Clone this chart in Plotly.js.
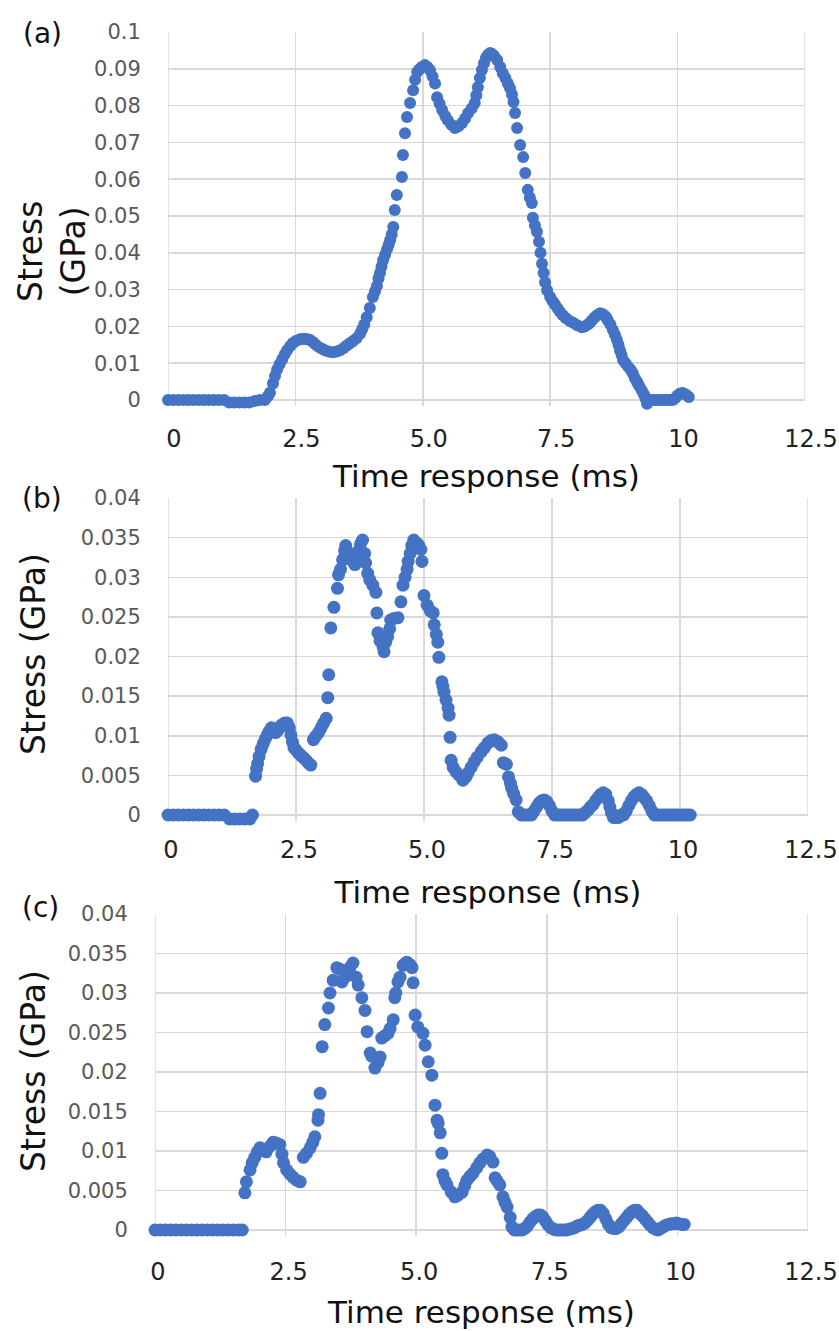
<!DOCTYPE html>
<html><head><meta charset="utf-8">
<script src="https://cdn.plot.ly/plotly-3.0.1.min.js"></script>
<style>html,body{margin:0;padding:0;background:#fff}#chart{width:839px;height:1331px}</style>
</head><body><div id="chart"></div>
<script>
// ---- data ----
const xTickVals = [0, 2.5, 5, 7.5, 10, 12.5];
const xTickText = ['0', '2.5', '5.0', '7.5', '10', '12.5'];
const yTickValsA = [0, 0.01, 0.02, 0.03, 0.04, 0.05, 0.06, 0.07, 0.08, 0.09, 0.1];
const yTickTextA = ['0', '0.01', '0.02', '0.03', '0.04', '0.05', '0.06', '0.07', '0.08', '0.09', '0.1'];
const yTickValsBC = [0, 0.005, 0.01, 0.015, 0.02, 0.025, 0.03, 0.035, 0.04];
const yTickTextBC = ['0', '0.005', '0.01', '0.015', '0.02', '0.025', '0.03', '0.035', '0.04'];

const timeA = [0,0.1,0.2,0.3,0.4,0.5,0.6,0.7,0.8,0.9,1.0,1.1,1.2,1.3,1.4,1.5,1.6,1.7,1.8,1.9,1.96,2.0,2.06,2.1,2.14,2.19,2.24,2.29,2.34,2.4,2.45,2.52,2.59,2.64,2.69,2.74,2.79,2.85,2.9,2.97,3.04,3.1,3.17,3.24,3.31,3.38,3.45,3.51,3.57,3.63,3.7,3.77,3.81,3.85,3.9,3.96,4.02,4.06,4.1,4.13,4.16,4.19,4.22,4.26,4.3,4.33,4.36,4.39,4.42,4.45,4.49,4.59,4.61,4.65,4.69,4.75,4.81,4.85,4.89,4.93,4.98,5.04,5.09,5.14,5.19,5.24,5.28,5.33,5.38,5.44,5.49,5.56,5.63,5.7,5.77,5.83,5.89,5.96,6.02,6.05,6.08,6.12,6.16,6.2,6.24,6.28,6.32,6.36,6.4,6.46,6.52,6.57,6.62,6.67,6.71,6.75,6.78,6.81,6.85,6.91,6.97,7.01,7.06,7.1,7.14,7.16,7.2,7.24,7.28,7.31,7.34,7.37,7.4,7.44,7.5,7.55,7.59,7.64,7.69,7.75,7.81,7.88,7.95,8.03,8.12,8.18,8.24,8.28,8.32,8.37,8.42,8.48,8.52,8.56,8.6,8.63,8.68,8.73,8.77,8.81,8.84,8.87,8.9,8.93,8.98,9.03,9.08,9.12,9.16,9.2,9.23,9.26,9.3,9.34,9.37,9.4,9.45,9.5,9.55,9.6,9.65,9.7,9.75,9.8,9.85,9.9,9.95,10.0,10.05,10.1,10.16,10.22];
const stressA = [0,0,0,0,0,0,0,0,0,0,0,0,-0.0007,-0.0007,-0.0007,-0.0007,-0.0007,-0.0003,0,0,0.001,0.002,0.0045,0.0065,0.0082,0.0097,0.011,0.0124,0.0136,0.0147,0.0155,0.0161,0.0165,0.0166,0.0166,0.0165,0.0163,0.0157,0.015,0.0143,0.0138,0.0134,0.0131,0.013,0.0132,0.0135,0.0141,0.0148,0.0154,0.016,0.0168,0.018,0.0192,0.0205,0.0225,0.025,0.028,0.0295,0.031,0.033,0.0345,0.0362,0.038,0.0395,0.041,0.0422,0.0435,0.045,0.047,0.0516,0.0557,0.0606,0.0666,0.0725,0.0769,0.0807,0.0842,0.087,0.0891,0.0898,0.0905,0.091,0.0905,0.0897,0.088,0.086,0.0823,0.0805,0.0788,0.0772,0.076,0.0748,0.0739,0.0744,0.0753,0.0765,0.078,0.0793,0.0807,0.0828,0.085,0.0875,0.0897,0.0915,0.093,0.0938,0.0943,0.094,0.0935,0.0924,0.0905,0.0888,0.0875,0.086,0.0848,0.083,0.081,0.078,0.0739,0.0693,0.066,0.0617,0.0571,0.055,0.0535,0.0495,0.0475,0.0457,0.043,0.04,0.037,0.0345,0.032,0.0298,0.028,0.0268,0.026,0.025,0.024,0.023,0.0222,0.0215,0.021,0.0203,0.0198,0.02,0.0205,0.021,0.0217,0.0224,0.023,0.0236,0.0234,0.023,0.0224,0.0217,0.0205,0.019,0.0177,0.0163,0.015,0.0135,0.0122,0.0109,0.01,0.009,0.0082,0.0073,0.006,0.005,0.0042,0.0035,0.0025,0.0015,0.0005,-0.001,0,0,0,0,0,0,0,0,0,0,0.0005,0.0012,0.0018,0.0019,0.0015,0.0008];

const timeB = [0,0.1,0.2,0.3,0.4,0.5,0.6,0.7,0.8,0.9,1.0,1.1,1.2,1.3,1.4,1.5,1.6,1.65,1.71,1.73,1.75,1.78,1.82,1.86,1.9,1.94,1.98,2.02,2.06,2.1,2.14,2.18,2.23,2.28,2.33,2.37,2.4,2.43,2.46,2.5,2.55,2.6,2.65,2.7,2.75,2.79,2.84,2.88,2.94,2.99,3.04,3.09,3.12,3.14,3.18,3.24,3.31,3.33,3.37,3.41,3.45,3.47,3.51,3.57,3.61,3.65,3.69,3.73,3.76,3.8,3.84,3.86,3.9,3.94,4.0,4.06,4.08,4.1,4.14,4.2,4.22,4.25,4.29,4.33,4.35,4.41,4.49,4.55,4.59,4.63,4.67,4.69,4.73,4.76,4.8,4.86,4.9,4.94,4.96,5.0,5.06,5.12,5.18,5.2,5.24,5.27,5.29,5.35,5.37,5.39,5.43,5.47,5.49,5.51,5.53,5.57,5.63,5.69,5.76,5.82,5.86,5.92,5.98,6.04,6.12,6.18,6.25,6.31,6.37,6.45,6.51,6.55,6.61,6.65,6.69,6.71,6.75,6.8,6.84,6.9,6.95,7.0,7.05,7.1,7.15,7.2,7.25,7.3,7.35,7.4,7.45,7.5,7.55,7.6,7.65,7.7,7.75,7.8,7.85,7.9,7.95,8.0,8.05,8.1,8.15,8.2,8.25,8.3,8.35,8.4,8.45,8.5,8.55,8.6,8.63,8.66,8.7,8.75,8.8,8.85,8.9,8.95,9.0,9.05,9.1,9.15,9.2,9.25,9.3,9.35,9.4,9.45,9.5,9.55,9.6,9.65,9.7,9.75,9.8,9.85,9.9,9.95,10.0,10.05,10.1,10.15,10.2];
const stressB = [0,0,0,0,0,0,0,0,0,0,0,0,-0.0005,-0.0005,-0.0005,-0.0005,-0.0005,0,0.0049,0.0058,0.0065,0.0074,0.0083,0.009,0.0096,0.0101,0.0106,0.011,0.0108,0.0104,0.0106,0.0111,0.0114,0.0116,0.0116,0.011,0.0101,0.0092,0.0085,0.0082,0.0078,0.0075,0.0072,0.0069,0.0065,0.0063,0.0095,0.0099,0.0104,0.011,0.0116,0.0122,0.0148,0.0177,0.0236,0.0262,0.0286,0.0303,0.031,0.0322,0.0333,0.034,0.0332,0.0326,0.032,0.0316,0.0325,0.0334,0.0342,0.0347,0.033,0.0318,0.0305,0.0297,0.029,0.0281,0.0255,0.023,0.022,0.0212,0.0206,0.0218,0.0225,0.0235,0.0246,0.0248,0.0249,0.0269,0.029,0.03,0.031,0.032,0.033,0.034,0.0347,0.0343,0.034,0.0335,0.032,0.0277,0.0265,0.0258,0.0255,0.024,0.0228,0.0218,0.0199,0.0168,0.0162,0.0155,0.0145,0.0135,0.0126,0.0098,0.0069,0.006,0.0054,0.005,0.0044,0.0048,0.0053,0.006,0.0067,0.0073,0.008,0.0085,0.0091,0.0094,0.0095,0.0092,0.0088,0.0066,0.0064,0.0048,0.004,0.0034,0.0027,0.0019,0.0004,0,0,0,0,0,0.0005,0.001,0.0015,0.0018,0.0019,0.0017,0.0012,0.0005,0,0,0,0,0,0,0,0,0,0,0,0,0.0003,0.0006,0.001,0.0013,0.0018,0.0022,0.0026,0.0028,0.0026,0.0018,0.001,0.0003,-0.0003,-0.0003,-0.0003,0,0,0.0005,0.0012,0.0018,0.0023,0.0026,0.0028,0.0026,0.0022,0.0018,0.0012,0.0005,0,0,0,0,0,0,0,0,0,0,0,0,0,0,0];

const timeC = [0,0.1,0.2,0.3,0.4,0.5,0.6,0.7,0.8,0.9,1.0,1.1,1.2,1.3,1.4,1.5,1.6,1.67,1.72,1.75,1.82,1.86,1.91,1.96,2.01,2.07,2.13,2.2,2.26,2.32,2.39,2.43,2.46,2.52,2.58,2.64,2.71,2.78,2.84,2.9,2.97,3.02,3.06,3.12,3.13,3.16,3.2,3.25,3.32,3.35,3.41,3.48,3.54,3.58,3.64,3.68,3.73,3.79,3.85,3.89,3.96,4.02,4.06,4.12,4.15,4.21,4.27,4.31,4.34,4.4,4.46,4.5,4.56,4.59,4.61,4.65,4.69,4.75,4.79,4.82,4.88,4.92,4.94,4.98,5.03,5.13,5.17,5.23,5.3,5.36,5.4,5.42,5.46,5.49,5.51,5.55,5.59,5.67,5.74,5.8,5.88,5.93,5.97,6.03,6.09,6.16,6.22,6.28,6.36,6.41,6.47,6.51,6.55,6.6,6.66,6.7,6.74,6.8,6.83,6.88,6.93,6.98,7.03,7.08,7.13,7.18,7.23,7.28,7.33,7.38,7.43,7.48,7.53,7.58,7.63,7.68,7.73,7.78,7.83,7.88,7.93,7.98,8.03,8.08,8.13,8.18,8.23,8.28,8.33,8.38,8.43,8.48,8.53,8.58,8.63,8.68,8.73,8.78,8.83,8.88,8.93,8.98,9.03,9.08,9.13,9.18,9.23,9.28,9.33,9.38,9.43,9.48,9.53,9.58,9.63,9.68,9.73,9.78,9.83,9.88,9.93,9.98,10.03,10.08,10.13];
const stressC = [0,0,0,0,0,0,0,0,0,0,0,0,0,0,0,0,0,0,0.0047,0.0061,0.0076,0.0085,0.0092,0.0099,0.0104,0.0101,0.0099,0.0106,0.0111,0.011,0.0108,0.0096,0.0085,0.0076,0.0071,0.0067,0.0063,0.0061,0.0092,0.0097,0.0104,0.0111,0.0118,0.0139,0.0146,0.0173,0.0232,0.026,0.0281,0.03,0.0316,0.0332,0.033,0.0314,0.032,0.0325,0.0332,0.0338,0.032,0.031,0.0294,0.0278,0.0251,0.0224,0.022,0.0205,0.0212,0.0219,0.0243,0.0246,0.0249,0.0255,0.0266,0.0294,0.03,0.0314,0.032,0.0335,0.0337,0.0339,0.0336,0.0332,0.0313,0.0272,0.0257,0.0249,0.0234,0.0213,0.0196,0.0158,0.0139,0.0135,0.0123,0.0097,0.007,0.0062,0.0057,0.0048,0.0042,0.0044,0.0048,0.0056,0.0063,0.0068,0.0072,0.0079,0.0085,0.009,0.0095,0.0093,0.0086,0.0066,0.0062,0.0057,0.0042,0.0035,0.0029,0.0016,0.0004,0,0,0,0,0.0002,0.0005,0.001,0.0014,0.0017,0.0019,0.0019,0.0016,0.0011,0.0006,0.0003,0.0001,0,0,0,0,0,0.0001,0.0002,0.0003,0.0005,0.0006,0.0007,0.0009,0.0012,0.0016,0.002,0.0023,0.0025,0.0025,0.0021,0.0014,0.0007,0.0003,0.0002,0.0002,0.0004,0.0008,0.0012,0.0016,0.002,0.0023,0.0025,0.0025,0.0021,0.0018,0.0014,0.001,0.0006,0.0003,0.0001,0,0.0002,0.0004,0.0006,0.0007,0.0008,0.0008,0.0009,0.0008,0.0007,0.0007];

// ---- layout helpers ----
const W = 839, H = 1331;
const FONT = 'DejaVu Sans, Liberation Sans, Arial, sans-serif';
const BLUE = '#4472C4';
const GRID = '#d9d9d9';
const X_MIN = 0, X_MAX = 12.5;

// l, r: pixel edges of the plot; ticklen/standoff tune label & title placement
function xAxisDef(l, r, anchor, shift, tlen, standoff) {
  return {
    domain: [l / W, r / W], anchor: anchor, range: [X_MIN, X_MAX],
    tickmode: 'array', tickvals: xTickVals, ticktext: xTickText,
    ticks: 'outside', ticklen: tlen, tickcolor: 'rgba(0,0,0,0)', ticklabelshift: shift,
    ticklabeloverflow: 'allow',
    showgrid: true, gridcolor: GRID, gridwidth: 1.5,
    showline: false, zeroline: false,
    tickfont: {family: FONT, size: 24, color: '#222'},
    title: {text: 'Time response (ms)', font: {family: FONT, size: 31, color: '#111'}, standoff: standoff},
    automargin: false, fixedrange: true
  };
}
// top: pixel of the top tick, zeroPx: pixel of the 0 tick, lowVal: small negative range start
function yAxisDef(top, zeroPx, anchor, topVal, lowVal, vals, text) {
  const pxPerUnit = (zeroPx - top) / topVal;
  const bottom = zeroPx + (-lowVal) * pxPerUnit;
  return {
    domain: [1 - bottom / H, 1 - top / H], anchor: anchor, range: [lowVal, topVal],
    tickmode: 'array', tickvals: vals, ticktext: text,
    ticks: 'outside', ticklen: 22, tickcolor: 'rgba(0,0,0,0)',
    showgrid: true, gridcolor: GRID, gridwidth: 1.5,
    showline: false, zeroline: false,
    tickfont: {family: FONT, size: 21, color: '#595959'},
    automargin: false, fixedrange: true
  };
}
// plot-area side borders (left/right edges), from 0 up to the top tick
function sideBorders(xref, yref, topVal) {
  return [X_MIN, X_MAX].map(function (xv) {
    return {type: 'line', xref: xref, yref: yref, x0: xv, x1: xv, y0: 0, y1: topVal,
            layer: 'below', line: {color: GRID, width: 1.5}};
  });
}

const traces = [
  {x: timeA, y: stressA, xaxis: 'x', yaxis: 'y', type: 'scatter', mode: 'markers', cliponaxis: false,
   marker: {color: BLUE, size: 12, line: {width: 0}}, showlegend: false, hoverinfo: 'x+y'},
  {x: timeB, y: stressB, xaxis: 'x2', yaxis: 'y2', type: 'scatter', mode: 'markers', cliponaxis: false,
   marker: {color: BLUE, size: 13, line: {width: 0}}, showlegend: false, hoverinfo: 'x+y'},
  {x: timeC, y: stressC, xaxis: 'x3', yaxis: 'y3', type: 'scatter', mode: 'markers', cliponaxis: false,
   marker: {color: BLUE, size: 13, line: {width: 0}}, showlegend: false, hoverinfo: 'x+y'}
];

function ann(text, x, y, size, angle) {
  return {text: text, x: x / W, y: 1 - y / H, xref: 'paper', yref: 'paper', showarrow: false,
          xanchor: 'center', yanchor: 'middle', textangle: angle || 0,
          font: {family: FONT, size: size, color: '#111'}};
}

const layout = {
  width: W, height: H, margin: {l: 0, r: 0, t: 0, b: 0},
  paper_bgcolor: '#ffffff', plot_bgcolor: '#ffffff', showlegend: false,
  xaxis: xAxisDef(168, 805, 'y', 6, 12, 12),
  yaxis: yAxisDef(32, 400, 'x', 0.1, -0.0015, yTickValsA, yTickTextA),
  xaxis2: xAxisDef(168, 808, 'y2', 3, 7, 18),
  yaxis2: yAxisDef(498, 815, 'x2', 0.04, -0.0008, yTickValsBC, yTickTextBC),
  xaxis3: xAxisDef(155, 808, 'y3', 3, 14, 16),
  yaxis3: yAxisDef(914, 1230, 'x3', 0.04, -0.0008, yTickValsBC, yTickTextBC),
  shapes: [].concat(sideBorders('x', 'y', 0.1), sideBorders('x2', 'y2', 0.04), sideBorders('x3', 'y3', 0.04)),
  annotations: [
    ann('(a)', 42, 33, 28), ann('(b)', 42, 498, 28), ann('(c)', 40, 907, 28),
    ann('Stress<br>(GPa)', 52, 252, 33, -90),
    ann('Stress (GPa)', 33, 654, 33, -90),
    ann('Stress (GPa)', 33, 1071, 33, -90)
  ]
};

Plotly.newPlot('chart', traces, layout, {displayModeBar: false, staticPlot: true});
</script>
</body></html>
